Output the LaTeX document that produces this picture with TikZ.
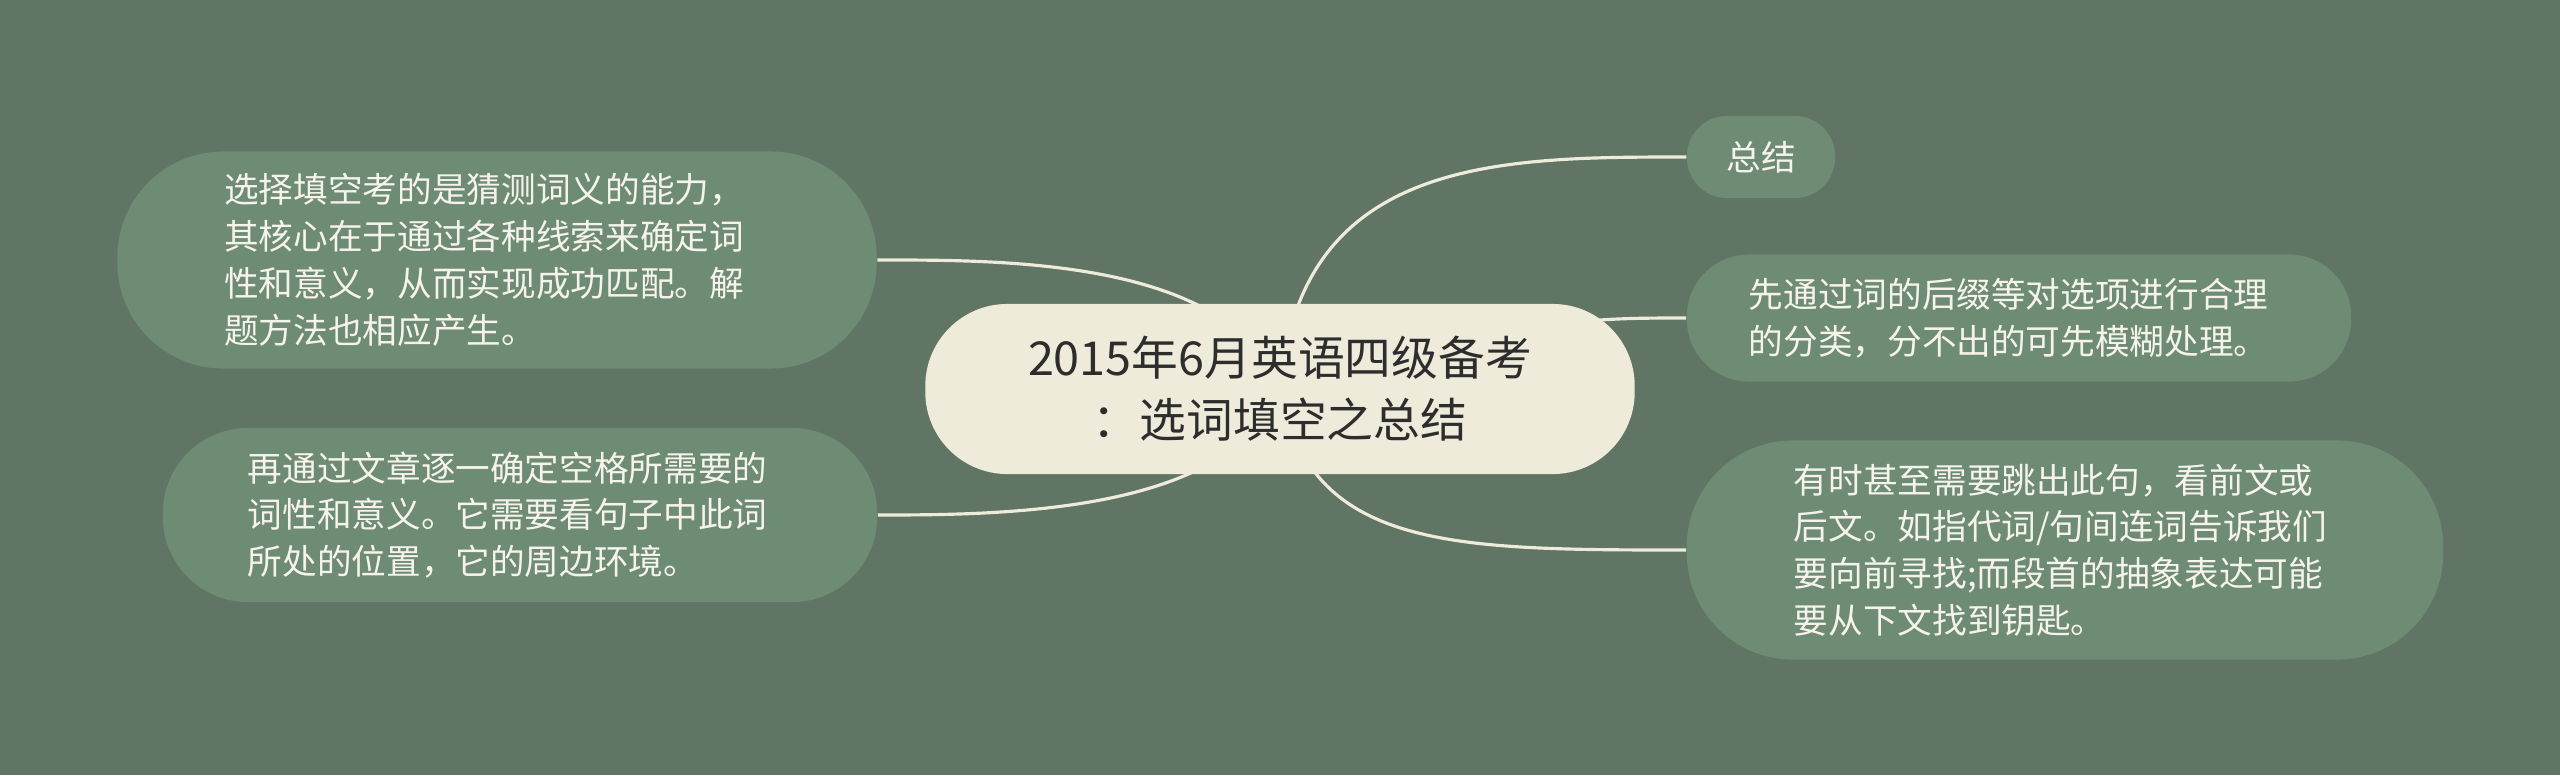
\documentclass[tikz,border=0pt]{standalone}
\usepackage{fontspec}
\setmainfont{Noto Sans CJK SC}
\usetikzlibrary{backgrounds}
\definecolor{bgcolor}{RGB}{97,117,100}
\definecolor{leafgreen}{RGB}{110,139,116}
\definecolor{rootfill}{RGB}{239,235,218}
\definecolor{leaftext}{RGB}{246,244,234}
\definecolor{roottext}{RGB}{45,45,45}
\newcommand\leaffont{\fontsize{9.85pt}{13.3pt}\selectfont}
\newcommand\rootfont{\fontsize{13.3pt}{17.6pt}\selectfont}

\begin{document}
\begin{tikzpicture}[x=0.01cm,y=-0.01cm,
  leaf/.style={fill=leafgreen, text=leaftext, font=\leaffont, align=left, inner ysep=0pt},
  link/.style={draw=rootfill, line width=0.9pt}]
  \useasboundingbox (0,0) rectangle (2560,775);
  \node [fill=rootfill, text=roottext, font=\rootfont, align=center, inner sep=0pt,
    minimum width=7.09cm, minimum height=1.70cm, rounded corners=0.82cm] (root) at (1280,389)
    {2015年6月英语四级备考\\：选词填空之总结};
  \node [leaf, inner xsep=0pt, minimum width=1.48cm, minimum height=0.82cm, rounded corners=0.40cm] (sum) at (1761,157) {总结};
  \node [leaf, inner xsep=0.62cm, text width=5.40cm, minimum height=1.27cm, rounded corners=0.62cm] (right1) at (2019,318)
    {先通过词的后缀等对选项进行合理\\的分类，分不出的可先模糊处理。};
  \node [leaf, inner xsep=1.07cm, text width=5.42cm, minimum height=2.19cm, rounded corners=1.06cm] (right2) at (2065,550)
    {有时甚至需要跳出此句，看前文或\\后文。如指代词/句间连词告诉我们\\要向前寻找;而段首的抽象表达可能\\要从下文找到钥匙。};
  \node [leaf, inner xsep=1.07cm, text width=5.45cm, minimum height=2.17cm, rounded corners=1.06cm] (left1) at (497,260)
    {选择填空考的是猜测词义的能力，\\其核心在于通过各种线索来确定词\\性和意义，从而实现成功匹配。解\\题方法也相应产生。};
  \node [leaf, inner xsep=0.85cm, text width=5.44cm, minimum height=1.74cm, rounded corners=0.85cm] (left2) at (520,515)
    {再通过文章逐一确定空格所需要的\\词性和意义。它需要看句子中此词\\所处的位置，它的周边环境。};
  \begin{scope}[on background layer]
    \fill [bgcolor] (0,0) rectangle (2560,775);
    \draw [link] (root.center) .. controls +(20,-232) and +(-187,0) .. (sum.west);
    \draw [link] (root.center) .. controls +(250,-71) and +(-100,0) .. (right1.west);
    \draw [link] (root.center) .. controls +(30,160) and +(-237,0) .. (right2.west);
    \draw [link] (root.center) .. controls +(-50,-131) and +(123,0) .. (left1.east);
    \draw [link] (root.center) .. controls +(-50,125) and +(123,0) .. (left2.east);
  \end{scope}
\end{tikzpicture}
\end{document}
